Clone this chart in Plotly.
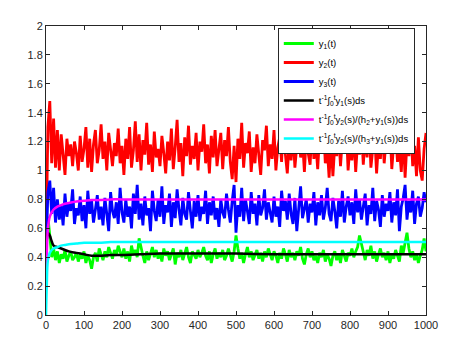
import plotly.graph_objects as go

# time grid for the noisy paths (every 5 units)
t = list(range(0, 1001, 5))

y1 = [0.45, 0.68, 0.55, 0.40, 0.46, 0.38, 0.44, 0.36, 0.42, 0.39,
      0.45, 0.37, 0.41, 0.44, 0.38, 0.40, 0.43, 0.37, 0.42, 0.39,
      0.44, 0.36, 0.41, 0.38, 0.32, 0.40, 0.43, 0.37, 0.46, 0.41,
      0.38, 0.44, 0.40, 0.47, 0.42, 0.39, 0.45, 0.41, 0.48, 0.43,
      0.40, 0.46, 0.39, 0.44, 0.37, 0.48, 0.42, 0.45, 0.40, 0.53,
      0.46, 0.41, 0.36, 0.44, 0.38, 0.42, 0.47, 0.40, 0.45, 0.39,
      0.43, 0.37, 0.46, 0.41, 0.44, 0.38, 0.42, 0.46, 0.35, 0.43,
      0.40, 0.45, 0.38, 0.42, 0.47, 0.40, 0.36, 0.44, 0.41, 0.39,
      0.45, 0.40, 0.43, 0.47, 0.41, 0.38, 0.44, 0.36, 0.42, 0.46,
      0.39, 0.43, 0.40, 0.45, 0.38, 0.41, 0.46, 0.42, 0.37, 0.44,
      0.55, 0.46, 0.39, 0.43, 0.36, 0.42, 0.47, 0.40, 0.44, 0.38,
      0.41, 0.45, 0.39, 0.43, 0.37, 0.44, 0.40, 0.46, 0.42, 0.38,
      0.44, 0.41, 0.36, 0.43, 0.39, 0.46, 0.42, 0.37, 0.45, 0.40,
      0.43, 0.38, 0.44, 0.41, 0.47, 0.39, 0.35, 0.42, 0.46, 0.40,
      0.44, 0.38, 0.41, 0.36, 0.43, 0.40, 0.45, 0.37, 0.42, 0.39,
      0.34, 0.41, 0.44, 0.38, 0.42, 0.36, 0.45, 0.40, 0.37, 0.43,
      0.41, 0.46, 0.40, 0.44, 0.47, 0.55, 0.49, 0.42, 0.38, 0.45,
      0.41, 0.48, 0.39, 0.44, 0.37, 0.42, 0.46, 0.40, 0.43, 0.38,
      0.44, 0.36, 0.42, 0.39, 0.45, 0.41, 0.37, 0.48, 0.43, 0.50,
      0.57, 0.46, 0.40, 0.44, 0.38, 0.42, 0.36, 0.41, 0.45, 0.53,
      0.44]

y2 = [0.45, 1.30, 1.48, 1.05, 1.36, 1.02, 1.28, 1.00, 1.25, 1.08,
      0.97, 1.22, 1.10, 1.18, 1.03, 1.20, 1.12, 1.00, 1.24, 1.06,
      1.15, 1.30, 1.02, 1.22, 0.99, 1.18, 1.28, 1.05, 1.14, 1.32,
      1.08, 1.20, 1.00, 1.26, 1.12, 1.03, 1.19, 1.10, 1.29, 1.05,
      1.17, 0.97, 1.22, 1.08, 1.30, 1.02, 1.14, 1.34, 1.06, 1.25,
      1.00, 1.21, 1.11, 1.33, 1.04, 1.18, 0.99, 1.27, 1.09, 1.15,
      1.03, 1.24, 1.12, 0.98, 1.20, 1.07, 1.29, 1.01, 1.16, 1.35,
      1.06, 1.19, 0.96, 1.23, 1.10, 1.31, 1.04, 1.17, 1.08, 1.26,
      1.00, 1.20, 1.13, 1.32, 1.05, 1.18, 0.98, 1.24, 1.09, 1.28,
      1.03, 1.15, 1.26, 1.01, 1.21, 1.10, 1.30, 1.06, 0.94, 1.17,
      0.92, 1.22, 1.08, 1.33, 1.02, 1.19, 1.12, 1.27, 0.99, 1.16,
      1.05, 1.25, 1.10, 0.97, 1.21, 1.14, 1.31, 1.03, 1.18, 1.08,
      1.28, 1.00, 1.16, 1.23, 1.06, 1.34, 1.11, 0.98, 1.20, 1.07,
      1.26, 1.02, 1.17, 1.30, 1.09, 1.21, 0.99, 1.24, 1.12, 1.04,
      1.29, 1.08, 1.19, 1.01, 1.25, 1.13, 1.33, 1.05, 1.16, 0.95,
      1.21, 0.96, 1.18, 1.10, 1.27, 1.03, 1.22, 1.14, 1.31, 1.00,
      1.17, 1.07, 1.26, 0.99, 1.20, 1.11, 1.29, 1.04, 1.23, 1.09,
      1.32, 1.02, 1.15, 1.24, 0.98, 1.19, 1.08, 1.28, 1.05, 1.21,
      1.12, 1.30, 1.01, 1.18, 1.25, 1.06, 1.16, 0.99, 1.27, 0.95,
      1.20, 1.10, 1.29, 1.03, 1.17, 0.96, 1.23, 1.00, 0.93, 1.15,
      1.26]

y3 = [0.42, 0.85, 0.93, 0.70, 0.88, 0.64, 0.80, 0.66, 0.76, 0.62,
      0.84, 0.68, 0.78, 0.72, 0.87, 0.63, 0.74, 0.69, 0.82, 0.65,
      0.76, 0.60, 0.86, 0.70, 0.79, 0.64, 0.73, 0.83, 0.66, 0.75,
      0.62, 0.81, 0.70, 0.58, 0.85, 0.72, 0.67, 0.78, 0.63, 0.88,
      0.71, 0.64, 0.80, 0.68, 0.75, 0.60, 0.84, 0.70, 0.90, 0.66,
      0.77, 0.62, 0.82, 0.69, 0.74, 0.58, 0.86, 0.72, 0.65, 0.80,
      0.68, 0.89, 0.63, 0.76, 0.71, 0.84, 0.61, 0.78, 0.67, 0.87,
      0.73, 0.62, 0.81, 0.70, 0.66, 0.85, 0.72, 0.60, 0.79, 0.68,
      0.83, 0.65, 0.75, 0.70, 0.86, 0.63, 0.78, 0.69, 0.82, 0.66,
      0.74, 0.61, 0.80, 0.71, 0.67, 0.84, 0.73, 0.64, 0.79, 0.90,
      0.57, 0.76, 0.68, 0.88, 0.65, 0.80, 0.72, 0.63, 0.85, 0.70,
      0.77, 0.62, 0.83, 0.69, 0.74, 0.87, 0.66, 0.78, 0.71, 0.64,
      0.82, 0.68, 0.75, 0.61, 0.86, 0.72, 0.79, 0.66, 0.84, 0.70,
      0.63, 0.81, 0.58, 0.76, 0.89, 0.67, 0.73, 0.80, 0.64, 0.77,
      0.71, 0.85, 0.62, 0.78, 0.69, 0.83, 0.66, 0.74, 0.88, 0.70,
      0.65, 0.81, 0.72, 0.60, 0.79, 0.68, 0.86, 0.64, 0.75, 0.82,
      0.69, 0.78, 0.63, 0.87, 0.71, 0.80, 0.66, 0.74, 0.84, 0.62,
      0.76, 0.70, 0.88, 0.65, 0.79, 0.73, 0.61, 0.83, 0.68, 0.77,
      0.72, 0.85, 0.64, 0.78, 0.69, 0.87, 0.58, 0.75, 0.81, 0.90,
      0.66, 0.79, 0.71, 0.86, 0.63, 0.77, 0.82, 0.68, 0.74, 0.85,
      0.78]

# time averages (smooth curves)
t_avg = [0, 2, 5, 10, 15, 20, 30, 40, 50, 60, 80, 100, 120, 140, 170,
         200, 250, 300, 400, 500, 600, 700, 800, 900, 1000]
avg1 = [0.45, 0.52, 0.57, 0.55, 0.51, 0.48, 0.47, 0.46, 0.45, 0.44, 0.43, 0.42,
        0.41, 0.41, 0.415, 0.415, 0.42, 0.425, 0.425, 0.425, 0.42, 0.42, 0.42, 0.42, 0.42]
avg2 = [0.19, 0.40, 0.60, 0.68, 0.71, 0.73, 0.75, 0.76, 0.77, 0.775, 0.785, 0.79,
        0.795, 0.795, 0.80, 0.80, 0.80, 0.80, 0.80, 0.80, 0.80, 0.80, 0.80, 0.80, 0.80]
avg3 = [0.0, 0.20, 0.38, 0.43, 0.45, 0.46, 0.47, 0.48, 0.485, 0.49, 0.495, 0.50,
        0.50, 0.50, 0.505, 0.505, 0.505, 0.505, 0.505, 0.505, 0.505, 0.505, 0.505, 0.505, 0.505]

names = ["y<sub>1</sub>(t)", "y<sub>2</sub>(t)", "y<sub>3</sub>(t)",
         "t<sup>-1</sup>∫<sub>0</sub><sup>t</sup>y<sub>1</sub>(s)ds",
         "t<sup>-1</sup>∫<sub>0</sub><sup>t</sup>y<sub>2</sub>(s)/(h<sub>2</sub>+y<sub>1</sub>(s))ds",
         "t<sup>-1</sup>∫<sub>0</sub><sup>t</sup>y<sub>2</sub>(s)/(h<sub>3</sub>+y<sub>1</sub>(s))ds"]

fig = go.Figure()
fig.add_scatter(x=t, y=y1, name=names[0], mode="lines", line=dict(color="#00ff00", width=2.8))
fig.add_scatter(x=t, y=y2, name=names[1], mode="lines", line=dict(color="#ff0000", width=2.8))
fig.add_scatter(x=t, y=y3, name=names[2], mode="lines", line=dict(color="#0000ff", width=2.8))
fig.add_scatter(x=t_avg, y=avg1, name=names[3], mode="lines", line=dict(color="#000000", width=2.5, shape="spline"))
fig.add_scatter(x=t_avg, y=avg2, name=names[4], mode="lines", line=dict(color="#ff00ff", width=2.5, shape="spline"))
fig.add_scatter(x=t_avg, y=avg3, name=names[5], mode="lines", line=dict(color="#00ffff", width=2.5, shape="spline"))

axis_style = dict(showline=True, linecolor="#262626", linewidth=1, mirror="ticks",
                  ticks="inside", ticklen=4, tickcolor="#262626", showgrid=False,
                  zeroline=False, tickfont=dict(size=11, color="#262626"))

fig.update_xaxes(range=[0, 1000], dtick=100, **axis_style)
fig.update_yaxes(range=[0, 2], dtick=0.2, **axis_style)

# page body has an 8px default margin, so the figure is a bit smaller than the window
fig.update_layout(
    width=461, height=337,
    margin=dict(l=38, r=43, t=15, b=30),
    plot_bgcolor="white", paper_bgcolor="white",
    font=dict(family="Liberation Sans, Arial, sans-serif", color="#262626"),
    legend=dict(x=0.61, y=0.993, xanchor="left", yanchor="top",
                bgcolor="white", bordercolor="#262626", borderwidth=1,
                font=dict(size=9.5, color="#000000"), itemwidth=30,
                tracegroupgap=0),
)

fig.write_html("out.html")
